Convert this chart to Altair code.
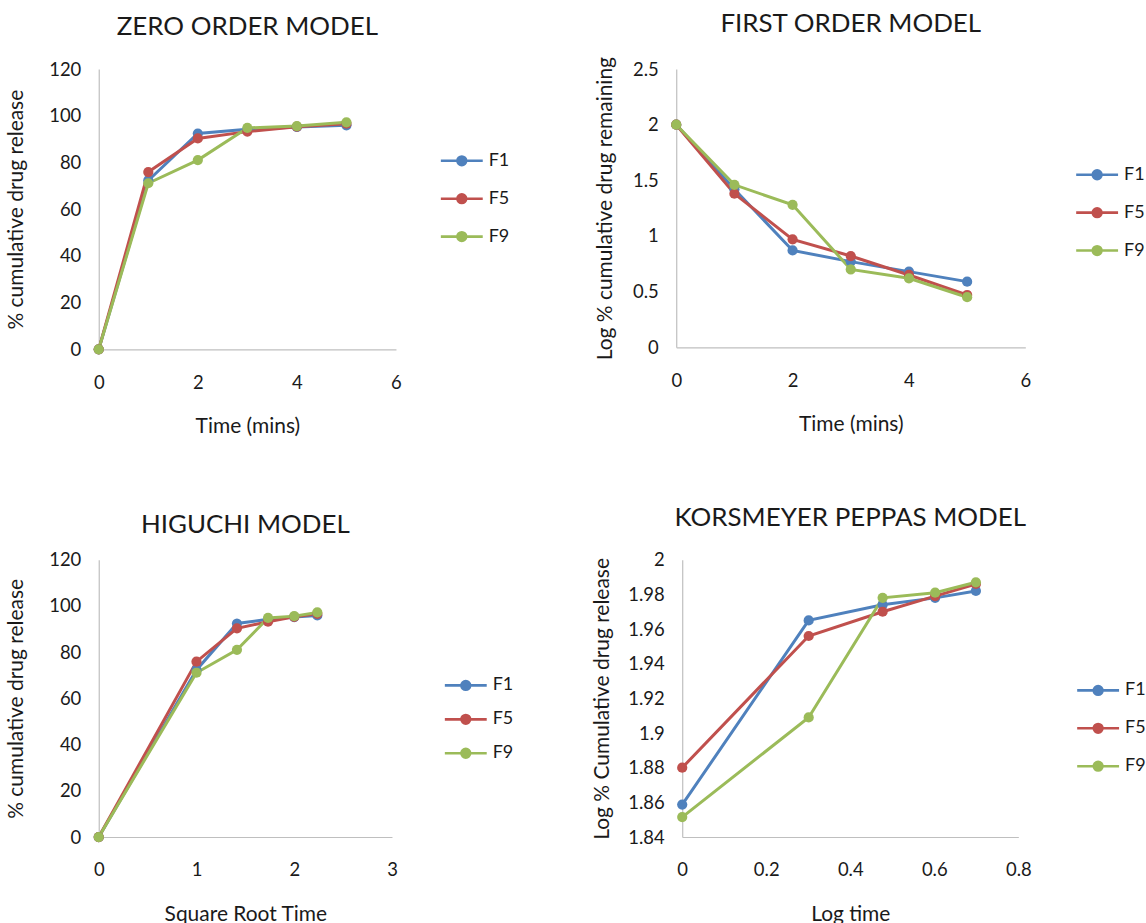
import altair as alt
import pandas as pd

FONT = "Lato"
formulations = ["F1", "F5", "F9"]
colors = ["#4F81BD", "#C0504D", "#9BBB59"]

# x values
time_mins = [0, 1, 2, 3, 4, 5]
sqrt_time = [0, 1, 1.414, 1.732, 2, 2.236]
log_time = [0, 0.301, 0.477, 0.602, 0.699]

# % cumulative drug release (zero order / Higuchi)
release_F1 = [0, 72.3, 92.4, 94.2, 95.2, 95.9]
release_F5 = [0, 75.9, 90.3, 93.2, 95.3, 96.6]
release_F9 = [0, 71.1, 81.0, 94.8, 95.6, 97.2]

# log % cumulative drug remaining (first order)
logrem_F1 = [2.0, 1.42, 0.87, 0.77, 0.68, 0.59]
logrem_F5 = [2.0, 1.38, 0.97, 0.82, 0.65, 0.47]
logrem_F9 = [2.0, 1.46, 1.28, 0.70, 0.62, 0.45]

# log % cumulative drug release (Korsmeyer-Peppas)
logrel_F1 = [1.8587, 1.965, 1.974, 1.978, 1.982]
logrel_F5 = [1.880, 1.956, 1.970, 1.979, 1.986]
logrel_F9 = [1.8515, 1.909, 1.978, 1.981, 1.987]

SYMBOL = ("M-1.2,0H1.2"
          "M-0.25,0A0.25,0.25,0,1,1,0.25,0A0.25,0.25,0,1,1,-0.25,0"
          "M-0.16,0A0.16,0.16,0,1,1,0.16,0A0.16,0.16,0,1,1,-0.16,0"
          "M-0.08,0A0.08,0.08,0,1,1,0.08,0A0.08,0.08,0,1,1,-0.08,0"
          "M-0.02,0A0.02,0.02,0,1,1,0.02,0A0.02,0.02,0,1,1,-0.02,0")

LABEL_EXPR = "'' + datum.value"


def make_panel(x_vals, series, title, x_title, y_title, x_dom, x_ticks,
               y_dom, y_ticks, w, h, leg_x, leg_y, row_pad, y_title_pad, title_off):
    rows = []
    for name, vals in zip(formulations, series):
        for xv, yv in zip(x_vals, vals):
            rows.append({"x": xv, "y": yv, "Formulation": name})
    df = pd.DataFrame(rows)
    legend = alt.Legend(title=None, orient="none", legendX=leg_x, legendY=leg_y,
                        symbolType=SYMBOL, symbolSize=1225, symbolStrokeWidth=2.6,
                        labelFontSize=18, labelFont=FONT, labelColor="#1a1a1a",
                        labelOffset=8, rowPadding=row_pad)
    x = alt.X("x:Q", scale=alt.Scale(domain=x_dom, nice=False, zero=False),
              axis=alt.Axis(values=x_ticks, title=x_title, labelExpr=LABEL_EXPR,
                            labelFlush=False))
    y = alt.Y("y:Q", scale=alt.Scale(domain=y_dom, nice=False, zero=False),
              axis=alt.Axis(values=y_ticks, title=y_title, labelExpr=LABEL_EXPR,
                            titlePadding=y_title_pad, labelFlush=False))
    cscale = alt.Scale(domain=formulations, range=colors)
    lines = alt.Chart(df).mark_line(strokeWidth=3).encode(
        x=x, y=y, color=alt.Color("Formulation:N", scale=cscale, legend=legend))
    pts = alt.Chart(df).mark_circle(size=105, opacity=1).encode(
        x=x, y=y, color=alt.Color("Formulation:N", scale=cscale, legend=None))
    return alt.layer(lines, pts).properties(
        width=w, height=h,
        title=alt.TitleParams(title, fontSize=26, font=FONT, fontWeight="normal",
                              color="#1a1a1a", offset=title_off, anchor="middle"))


p1 = make_panel(time_mins, [release_F1, release_F5, release_F9],
                "ZERO ORDER MODEL", "Time (mins)", "% cumulative drug release",
                [0, 6], [0, 2, 4, 6], [0, 120], [0, 20, 40, 60, 80, 100, 120],
                298, 281, 345, 73, 9, 22, 20)
p2 = make_panel(time_mins, [logrem_F1, logrem_F5, logrem_F9],
                "FIRST ORDER MODEL", "Time (mins)", "Log % cumulative drug remaining",
                [0, 6], [0, 2, 4, 6], [0, 2.5], [0, 0.5, 1, 1.5, 2, 2.5],
                350, 279, 403, 87, 9, 17, 20)
p3 = make_panel(sqrt_time, [release_F1, release_F5, release_F9],
                "HIGUCHI MODEL", "Square Root Time", "% cumulative drug release",
                [0, 3], [0, 1, 2, 3], [0, 120], [0, 20, 40, 60, 80, 100, 120],
                294, 278, 349, 107, 5, 22, 13)
p4 = make_panel(log_time, [logrel_F1, logrel_F5, logrel_F9],
                "KORSMEYER PEPPAS MODEL", "Log time", "Log % Cumulative drug release",
                [0, 0.8], [0, 0.2, 0.4, 0.6, 0.8], [1.84, 2.0],
                [1.84, 1.86, 1.88, 1.9, 1.92, 1.94, 1.96, 1.98, 2.0],
                337, 278, 398, 112, 9, 15, 20)

row1 = alt.hconcat(p1, p2, spacing=85).resolve_scale(color="independent")
row2 = alt.hconcat(p3, p4, spacing=78).resolve_scale(color="independent")

chart = alt.vconcat(row1, row2, spacing=68).resolve_scale(color="independent").properties(
    background="white", padding={"left": 5, "top": 9, "right": 0, "bottom": 0}
).configure_view(
    stroke=None
).configure_axis(
    grid=False, ticks=False, tickSize=0, domainColor="#BFBFBF", domainWidth=1.2,
    labelFont=FONT, labelFontSize=18.5, labelColor="#1a1a1a", labelFlush=False,
    titleFont=FONT, titleFontSize=21, titleFontWeight="normal", titleColor="#1a1a1a",
).configure_axisX(labelPadding=24, titlePadding=24).configure_axisY(labelPadding=18)

chart.save("out.html", embed_options={"renderer": "svg", "actions": False})
